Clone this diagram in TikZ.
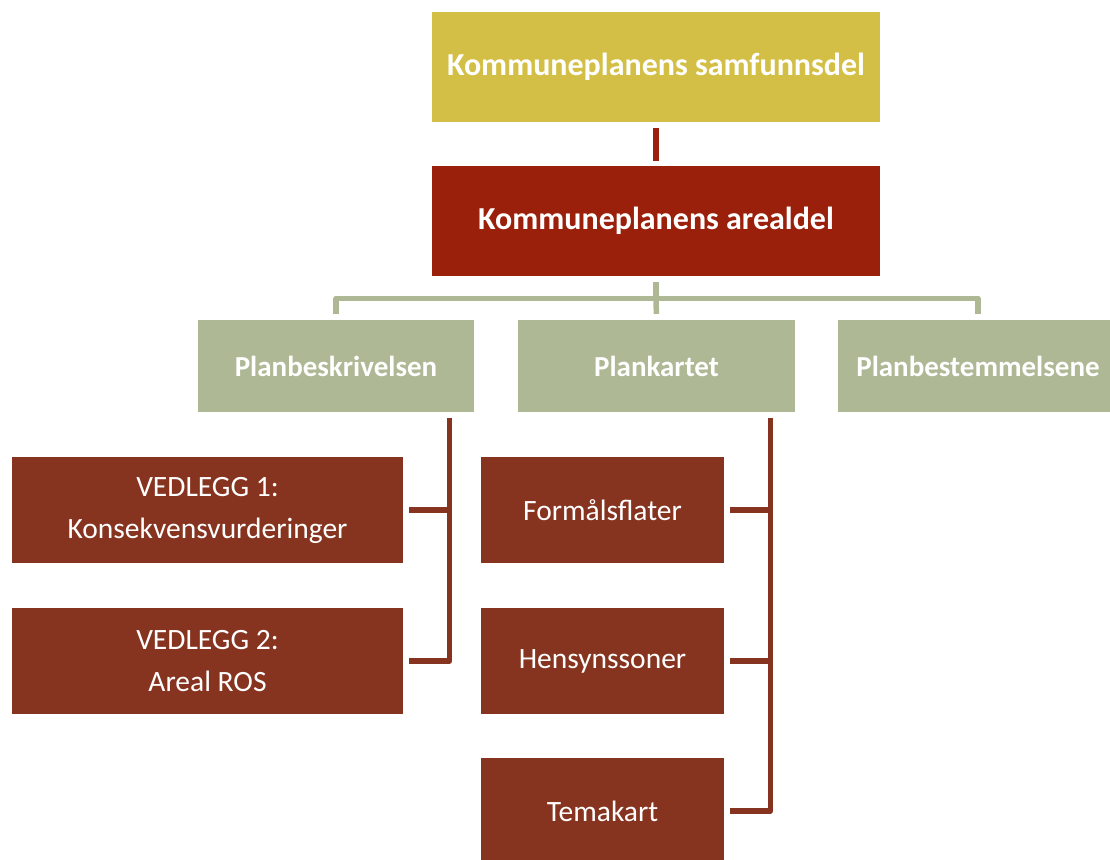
\documentclass[tikz,border=0pt]{standalone}
\usepackage{fontspec}
\setmainfont{Carlito}
\definecolor{samfgul}{HTML}{D3BF45}
\definecolor{arealrod}{HTML}{9B200B}
\definecolor{plangronn}{HTML}{AEB895}
\definecolor{vedleggbrun}{HTML}{86341F}
\begin{document}
\begin{tikzpicture}[x=1pt, y=-1pt,
        toppboks/.style={fill=#1, text=white, inner sep=0pt,
            minimum width=448pt, minimum height=110pt,
            font=\fontsize{32}{38}\selectfont\bfseries},
        planboks/.style={fill=plangronn, text=white, inner sep=0pt,
            minimum width=#1, minimum height=92pt,
            font=\fontsize{29}{35}\selectfont\bfseries},
        brunboks/.style={fill=vedleggbrun, text=white, inner sep=0pt,
            minimum width=#1, minimum height=106pt, align=center,
            font=\fontsize{29.5}{42}\selectfont},
        rodlinje/.style={draw=arealrod, line width=5.5pt},
        gronnlinje/.style={draw=plangronn, line width=5.5pt, line join=round},
        brunlinje/.style={draw=vedleggbrun, line width=5.5pt, line join=round}]
    \useasboundingbox (0,0) rectangle (1110,859);
    % øverste nivå
    \node [toppboks=samfgul] (samf) at (656,67) {Kommuneplanens samfunnsdel};
    \node [toppboks=arealrod] (areal) at (656,221) {Kommuneplanens arealdel};
    % plandokumentene
    \node [planboks=276pt] (beskr) at (336,366) {Planbeskrivelsen};
    \node [planboks=277pt] (kart) at (656.5,366) {Plankartet};
    \node [planboks=280pt] (best) at (978,366) {Planbestemmelsene};
    % vedlegg og kartlag
    \node [brunboks=391pt] (v1) at (207.5,510) {VEDLEGG 1:\\Konsekvensvurderinger};
    \node [brunboks=391pt] (v2) at (207.5,661) {VEDLEGG 2:\\Areal ROS};
    \node [brunboks=243pt] (form) at (602.5,510) {Formålsflater};
    \node [brunboks=243pt] (hens) at (602.5,661) {Hensynssoner};
    \node [brunboks=243pt] (tema) at (602.5,811) {Temakart};
    \coordinate (bus) at (656,298.5);
    \coordinate (vspine) at (449.5,418);
    \coordinate (kspine) at (770.5,418);
    % linjer
    \draw [rodlinje, shorten <=6pt, shorten >=5pt] (samf) -- (areal);
    \draw [gronnlinje, shorten <=6pt] (areal) -- (bus);
    \draw [gronnlinje, shorten <=6pt, shorten >=6pt] (beskr.north) |- (bus) -| (best.north);
    \draw [gronnlinje, shorten >=6pt] (bus) -- (kart.north);
    \draw [brunlinje, shorten <=6pt, shorten >=6pt] (beskr.south -| vspine) |- (v2.east);
    \draw [brunlinje, shorten >=6pt] (vspine |- v1.east) -- (v1.east);
    \draw [brunlinje, shorten <=6pt, shorten >=6pt] (kart.south -| kspine) |- (tema.east);
    \draw [brunlinje, shorten >=6pt] (kspine |- form.east) -- (form.east);
    \draw [brunlinje, shorten >=6pt] (kspine |- hens.east) -- (hens.east);
\end{tikzpicture}
\end{document}
